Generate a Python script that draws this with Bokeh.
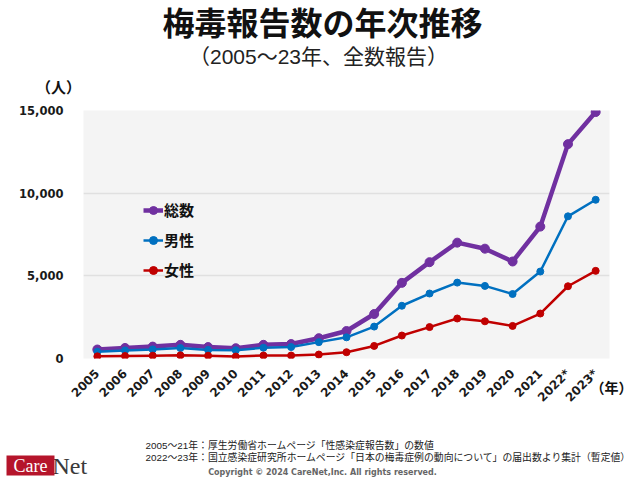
import math
from bokeh.plotting import figure
from bokeh.models import (FactorRange, Range1d, Label, Legend, LegendItem,
                          NumeralTickFormatter, FixedTicker)
from bokeh.embed import file_html
from bokeh.resources import INLINE

years = ["2005", "2006", "2007", "2008", "2009", "2010", "2011", "2012", "2013",
         "2014", "2015", "2016", "2017", "2018", "2019", "2020", "2021", "2022*", "2023*"]
total = [543, 637, 719, 827, 691, 621, 827, 875, 1228, 1661, 2690, 4575, 5826,
         7007, 6642, 5867, 7978, 12966, 14906]
male = [410, 490, 550, 630, 520, 500, 650, 690, 990, 1280, 1930, 3190, 3930,
        4590, 4390, 3900, 5260, 8600, 9600]
female = [130, 150, 170, 190, 170, 120, 180, 180, 240, 380, 760, 1390, 1900,
          2420, 2250, 1970, 2720, 4370, 5300]
y_ticks = [0, 5000, 10000, 15000]

JP = "Noto Sans CJK JP"
JPL = "Liberation Sans, Noto Sans CJK JP"

p = figure(width=640, height=480, x_range=FactorRange(*years),
           y_range=Range1d(0, 15000), output_backend="svg", toolbar_location=None,
           min_border_left=83, min_border_right=31, min_border_top=110,
           min_border_bottom=122)
p.outline_line_color = None
p.background_fill_color = "#f4f4f4"
p.border_fill_color = "white"

p.xgrid.grid_line_color = None
p.ygrid.grid_line_color = "#e0e0e0"
p.ygrid.grid_line_width = 1.5

p.yaxis.ticker = FixedTicker(ticks=y_ticks)
p.yaxis.formatter = NumeralTickFormatter(format="0,0")
for ax in (p.xaxis[0], p.yaxis[0]):
    ax.axis_line_color = None
    ax.major_tick_line_color = None
    ax.minor_tick_line_color = None
    ax.major_label_text_font = "DejaVu Sans"
    ax.major_label_text_font_style = "bold"
    ax.major_label_text_color = "#1a1a1a"
p.yaxis.major_label_text_font_size = "11.5px"
p.yaxis.major_label_standoff = 14
p.xaxis.major_label_text_font_size = "12px"
p.xaxis.major_label_orientation = math.pi / 4
p.xaxis.major_label_standoff = 7

l_t = p.line(years, total, line_color="#7030a0", line_width=4.5)
s_t = p.scatter(years, total, size=9, fill_color="#7030a0", line_color="#7030a0")
l_m = p.line(years, male, line_color="#0070c0", line_width=2.5)
s_m = p.scatter(years, male, size=7, fill_color="#0070c0", line_color="#0070c0")
l_f = p.line(years, female, line_color="#c00000", line_width=2.5)
s_f = p.scatter(years, female, size=7, fill_color="#c00000", line_color="#c00000")

legend = Legend(items=[LegendItem(label="総数", renderers=[l_t, s_t]),
                       LegendItem(label="男性", renderers=[l_m, s_m]),
                       LegendItem(label="女性", renderers=[l_f, s_f])],
                location=(60, 78), background_fill_alpha=0, border_line_color=None,
                padding=0, margin=0, spacing=9, glyph_width=20, glyph_height=20,
                label_height=20, label_standoff=1,
                label_text_font=JP, label_text_font_style="bold",
                label_text_font_size="15px", label_text_color="#111111")
p.add_layout(legend)


def lab(text, cx, cy, size, side, bold=False, align="center", color="#111111",
        font=JPL, **kw):
    # canvas units: pixels from the top-left corner of the page
    p.add_layout(Label(x=cx, y=cy, x_units="canvas", y_units="canvas",
                       text=text, text_font=font, text_font_size=size,
                       text_font_style="bold" if bold else "normal",
                       text_align=align, text_baseline="middle",
                       text_color=color, **kw), side)


lab("梅毒報告数の年次推移", 322, 23, "32px", "above", bold=True)
lab("（2005～23年、全数報告）", 318, 56, "21px", "above", color="#222222")
lab("（人）", 58, 87, "15px", "above", bold=True)
lab("Net", 52, 465, "24px", "above", align="left", color="#3a3a3a",
    font="Liberation Serif")
lab("（年）", 611, 387, "14px", "below", bold=True)
lab("2005～21年：厚生労働省ホームページ「性感染症報告数」の数値", 145, 445, "9.85px",
    "below", align="left", color="#222222")
lab("2022～23年：国立感染症研究所ホームページ「日本の梅毒症例の動向について」の届出数より集計（暫定値）",
    145, 457, "9.85px", "below", align="left", color="#222222")
lab("Copyright © 2024 CareNet,Inc. All rights reserved.", 322, 472, "8px",
    "below", bold=True, color="#666666", font="DejaVu Sans")
lab("Care", 30, 465, "18px", "below", color="white", font="Liberation Serif",
    background_fill_color="#b5152b",
    padding=dict(left=7, right=7, top=0, bottom=0))

open("out.html", "w").write(file_html(p, INLINE))
